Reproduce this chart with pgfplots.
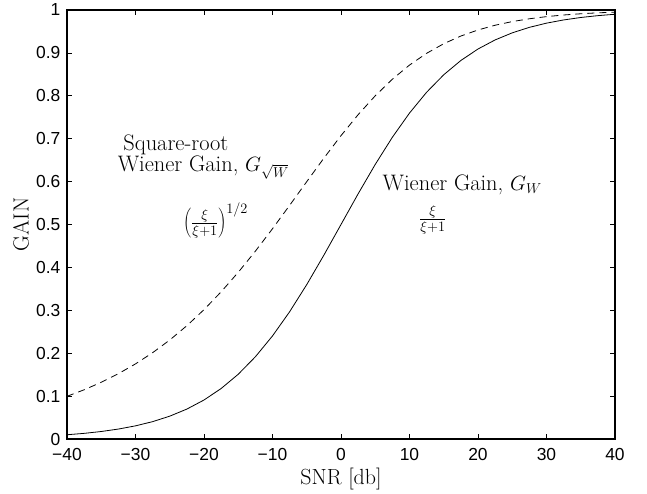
\documentclass[border=0pt]{standalone}
\usepackage{fontspec}
\usepackage{pgfplots}
\pgfplotsset{compat=1.18}
\newfontfamily\arialfont{Liberation Sans}
\pgfplotstableread{
x g s
-40 0.00990 0.09950
-37.5 0.01316 0.11472
-35 0.01747 0.13218
-32.5 0.02317 0.15220
-30 0.03065 0.17508
-27.5 0.04046 0.20116
-25 0.05324 0.23074
-22.5 0.06976 0.26412
-20 0.09091 0.30151
-17.5 0.11766 0.34302
-15 0.15098 0.38856
-12.5 0.19168 0.43781
-10 0.24025 0.49015
-7.5 0.29662 0.54463
-5 0.35993 0.59994
-2.5 0.42854 0.65463
0 0.50000 0.70711
2.5 0.57146 0.75595
5 0.64007 0.80004
7.5 0.70338 0.83868
10 0.75975 0.87164
12.5 0.80832 0.89907
15 0.84902 0.92142
17.5 0.88234 0.93933
20 0.90909 0.95346
22.5 0.93024 0.96449
25 0.94676 0.97302
27.5 0.95954 0.97956
30 0.96935 0.98456
32.5 0.97684 0.98835
35 0.98253 0.99123
37.5 0.98684 0.99340
40 0.99010 0.99504
}\gaindata
\begin{document}
\begin{tikzpicture}
\begin{axis}[
  at={(0,0)}, anchor=south west,
  scale only axis,
  width=548bp, height=429bp,
  xmin=-40, xmax=40, ymin=0, ymax=1,
  xtick={-40,-30,...,40},
  xticklabels={−40,−30,−20,−10,0,10,20,30,40},
  ytick={0,0.1,...,1},
  yticklabels={0,0.1,0.2,0.3,0.4,0.5,0.6,0.7,0.8,0.9,1},
  tick align=inside,
  major tick length=5bp,
  axis line style={line width=1.1bp},
  every tick/.style={black, line width=0.8bp},
  /pgf/number format/assume math mode=true,
  ticklabel style={font=\arialfont\fontsize{17.5}{20}\selectfont, inner sep=0.5bp},
  xticklabel style={yshift=-9bp},
  yticklabel style={xshift=-6bp},
  xlabel={SNR [db]},
  ylabel={GAIN},
  label style={font=\fontsize{22}{26}\selectfont},
  xlabel style={yshift=-3bp},
  ylabel style={yshift=3bp},
  clip=true,
]
\addplot[black, line width=0.8bp, dash pattern=on 7bp off 5bp] table[x=x, y=s] {\gaindata};
\addplot[black, line width=0.8bp] table[x=x, y=g] {\gaindata};
\node[font=\fontsize{22.5}{26}\selectfont] at (axis cs:-24.1,0.685) {Square-root};
\node[font=\fontsize{22.5}{26}\selectfont] at (axis cs:-20.1,0.633) {Wiener Gain, $G_{\sqrt{W}}$};
\node[font=\fontsize{22.5}{26}\selectfont] at (axis cs:-18.3,0.51) {$\left(\frac{\xi}{\xi+1}\right)^{1/2}$};
\node[font=\fontsize{22.5}{26}\selectfont] at (axis cs:17.7,0.593) {Wiener Gain, $G_W$};
\node[font=\fontsize{22.5}{26}\selectfont] at (axis cs:13.4,0.51) {$\frac{\xi}{\xi+1}$};
\end{axis}
\path (-67bp,-54bp) rectangle (580bp,439bp);
\end{tikzpicture}
\end{document}
